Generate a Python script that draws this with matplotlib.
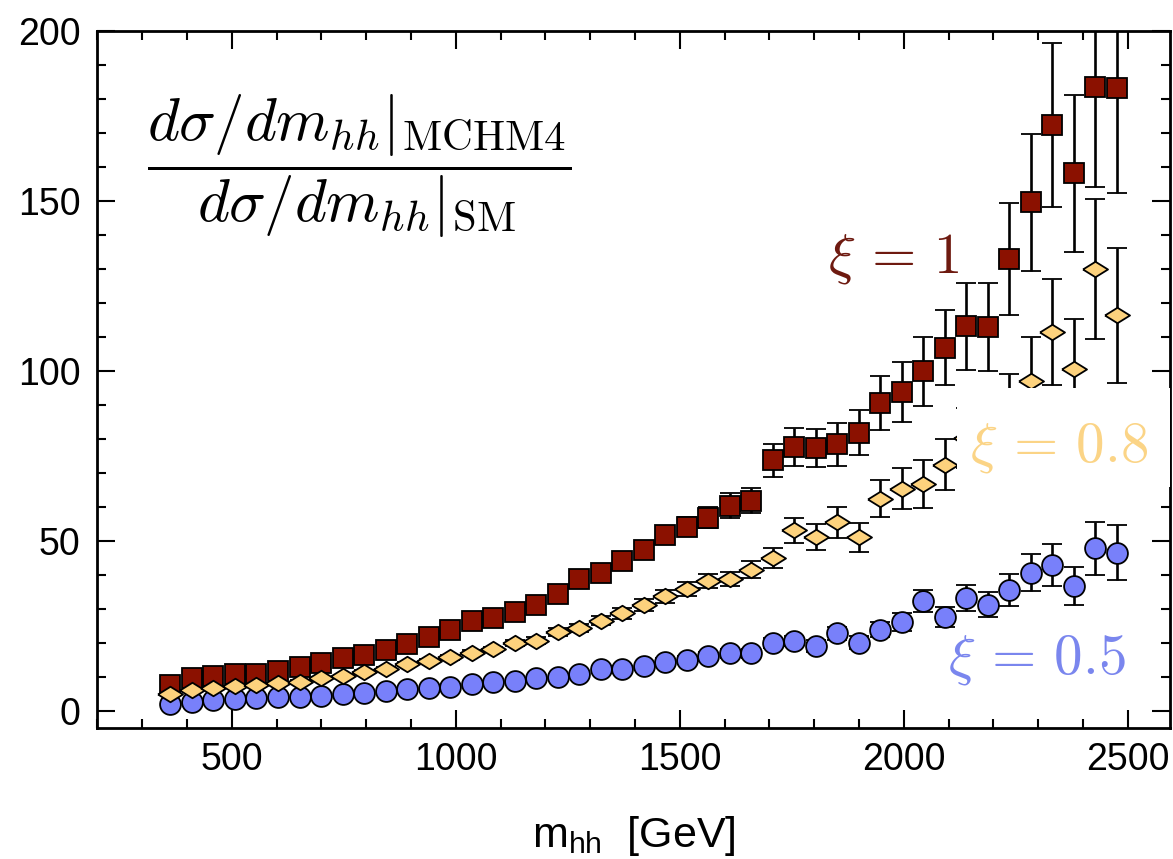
import matplotlib.pyplot as plt
from matplotlib.patches import Rectangle
from matplotlib.ticker import MultipleLocator

plt.rcParams['font.family'] = ['Liberation Sans', 'DejaVu Sans']
plt.rcParams['mathtext.fontset'] = 'custom'
plt.rcParams['mathtext.rm'] = 'Liberation Sans'
plt.rcParams['mathtext.it'] = 'Liberation Sans:italic'

# bin centres in m_hh [GeV]
m_hh = [363, 411, 459, 507, 555, 603, 651, 699, 747, 795,
        843, 891, 939, 987, 1035, 1083, 1131, 1179, 1227, 1275,
        1323, 1371, 1419, 1467, 1515, 1563, 1611, 1659, 1707, 1755,
        1803, 1851, 1899, 1947, 1995, 2043, 2091, 2139, 2187, 2235,
        2283, 2331, 2379, 2427, 2475]

# ratio MCHM4 / SM for xi = 1
ratio_xi1 = [7.6, 9.6, 10.3, 10.8, 10.9, 11.8, 12.9, 14.1, 15.7, 16.4,
             17.9, 19.8, 21.7, 23.9, 26.5, 27.5, 29.2, 31.3, 34.4, 38.7,
             40.6, 44.2, 47.4, 51.7, 54.2, 56.9, 60.4, 61.9, 73.7, 77.7,
             77.4, 78.4, 81.9, 90.5, 93.7, 99.9, 106.9, 113.1, 113.0, 132.9,
             149.6, 172.4, 158.1, 183.6, 183.1]
err_xi1 = [0.3, 0.3, 0.3, 0.4, 0.4, 0.4, 0.5, 0.5, 0.6, 0.6,
           0.7, 0.8, 0.8, 0.9, 1.0, 1.1, 1.2, 1.3, 1.4, 1.6,
           1.7, 1.9, 2.1, 2.4, 2.8, 3.2, 3.6, 3.6, 4.9, 5.5,
           5.6, 6.3, 6.6, 7.9, 8.8, 10.2, 11.1, 12.9, 13.0, 16.5,
           20.1, 24.1, 23.0, 29.4, 30.8]

# xi = 0.8
ratio_xi08 = [4.9, 6.2, 6.9, 7.4, 7.6, 8.3, 8.6, 9.6, 10.3, 11.6,
              12.3, 13.7, 14.8, 15.8, 17.2, 18.1, 19.9, 20.7, 23.3, 24.3,
              26.6, 28.7, 31.2, 33.7, 35.9, 38.2, 38.8, 41.5, 45.0, 53.1,
              51.2, 55.5, 51.1, 62.5, 65.4, 66.8, 72.5, 80.3, 84.0, 87.0,
              97.2, 111.5, 100.6, 129.9, 116.4]
err_xi08 = [0.2, 0.2, 0.3, 0.3, 0.3, 0.3, 0.4, 0.4, 0.4, 0.5,
            0.5, 0.6, 0.6, 0.7, 0.8, 0.8, 0.9, 1.0, 1.1, 1.2,
            1.4, 1.6, 1.7, 1.8, 2.0, 2.0, 2.1, 2.5, 2.9, 3.8,
            3.9, 4.6, 4.3, 5.4, 6.1, 7.0, 7.4, 8.8, 10.0, 12.0,
            12.8, 15.6, 14.6, 20.6, 19.8]

# xi = 0.5
ratio_xi05 = [2.1, 2.7, 3.2, 3.4, 3.7, 4.0, 4.1, 4.5, 5.0, 5.4,
              6.0, 6.4, 6.9, 7.2, 7.8, 8.6, 8.9, 9.6, 10.1, 10.9,
              12.3, 12.3, 13.2, 14.5, 14.9, 16.1, 17.0, 17.0, 20.0, 20.6,
              19.2, 22.8, 20.1, 23.9, 26.2, 32.3, 27.7, 33.2, 31.3, 35.6,
              40.7, 42.9, 36.8, 47.8, 46.6]
err_xi05 = [0.1, 0.1, 0.1, 0.2, 0.2, 0.2, 0.2, 0.3, 0.3, 0.3,
            0.4, 0.4, 0.4, 0.5, 0.5, 0.6, 0.6, 0.7, 0.7, 0.8,
            0.9, 0.9, 1.0, 1.1, 1.2, 1.3, 1.3, 1.3, 1.5, 1.5,
            1.7, 2.0, 1.9, 2.2, 2.6, 3.2, 2.9, 3.8, 3.6, 4.6,
            5.5, 6.1, 5.6, 7.8, 8.1]

red = '#8b1100'
yellow = '#fdd27d'
blue = '#7880fa'

# flat diamond marker
flat_diamond = [(-1, 0), (0, 0.62), (1, 0), (0, -0.62), (-1, 0)]

fig = plt.figure(figsize=(11.73, 8.59), dpi=100)
ax = fig.add_axes([97 / 1173, 131 / 859, 1073 / 1173, 697 / 859])

bar_kw = dict(ecolor='black', elinewidth=1.9, capsize=7, capthick=1.9,
              mec='black', mew=1.3, linestyle='none')
ax.errorbar(m_hh, ratio_xi05, yerr=err_xi05, marker='o', ms=15, mfc=blue,
            zorder=2, **bar_kw)
ax.errorbar(m_hh, ratio_xi1, yerr=err_xi1, marker='s', ms=14, mfc=red,
            zorder=3, **bar_kw)
ax.errorbar(m_hh, ratio_xi08, yerr=err_xi08, marker=flat_diamond, ms=18,
            mfc=yellow, zorder=4, **bar_kw)

# labels
ax.text(1830, 128.9, r'$\xi\, = \,1$', color='#6e1a10', fontsize=41,
        math_fontfamily='cm', zorder=6)
ax.add_patch(Rectangle((2118, 66), 600, 29, fc='white', ec='none', zorder=5))
ax.text(2147, 73.3, r'$\xi\, = \,0.8$', color='#fbd486', fontsize=41,
        math_fontfamily='cm', zorder=6)
ax.text(2098, 11.1, r'$\xi\, = \,0.5$', color='#7a86ee', fontsize=41,
        math_fontfamily='cm', zorder=6)
ax.text(0.244, 0.806,
        r'$\dfrac{d\sigma/dm_{hh}|_{\rm MCHM4}}{d\sigma/dm_{hh}|_{\rm SM}}$',
        transform=ax.transAxes, ha='center', va='center', fontsize=44,
        math_fontfamily='cm')

ax.set_xlim(199, 2594)
ax.set_ylim(-5, 200)
ax.xaxis.set_major_locator(MultipleLocator(500))
ax.xaxis.set_minor_locator(MultipleLocator(100))
ax.yaxis.set_major_locator(MultipleLocator(50))
ax.yaxis.set_minor_locator(MultipleLocator(10))
ax.tick_params(which='both', direction='in', top=True, right=True, width=1.5)
ax.tick_params(which='major', length=13, labelsize=27)
ax.tick_params(which='minor', length=6.5)
ax.tick_params(axis='x', pad=10)
ax.tick_params(axis='y', pad=12)
for s in ax.spines.values():
    s.set_linewidth(2)

ax.set_xlabel(r'm$_{\mathrm{hh}}$  [GeV]', fontsize=31, labelpad=26)

fig.savefig('out.png', dpi=100)
